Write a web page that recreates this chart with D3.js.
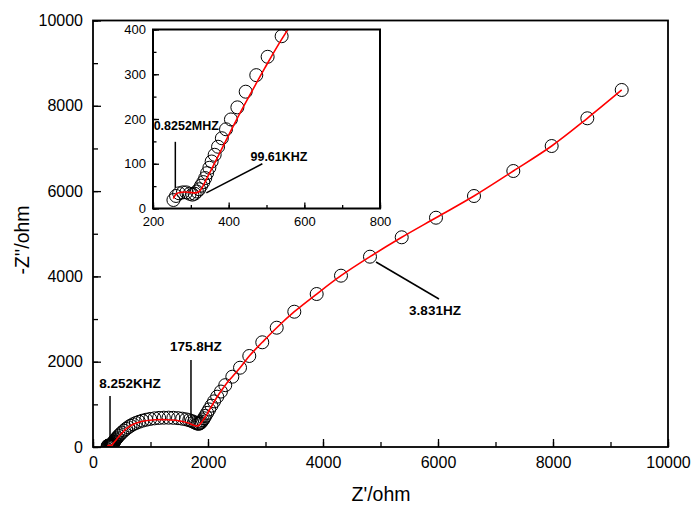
<!DOCTYPE html>
<html>
<head>
<meta charset="utf-8">
<script src="https://cdn.jsdelivr.net/npm/d3@7"></script>
<style>
  body { margin: 0; background: #fff; }
  svg { display: block; font-family: Arial, "Liberation Sans", sans-serif; }
</style>
</head>
<body>
<script>
"use strict";

// measured impedance points [Z', -Z''] (ohm)
const measured = [
    [254, 19], [261, 28], [269, 34], [279, 36], [288, 36], [297, 33], [304, 31],
    [310, 33], [316, 38], [322, 43], [327, 51], [333, 59], [338, 68], [343, 79],
    [349, 91], [355, 105], [363, 120], [372, 138], [382, 157], [393, 177],
    [406, 199], [423, 226], [445, 261], [473, 298], [503, 339], [540, 385],
    [575, 425], [612, 462], [652, 498], [697, 532], [746, 563], [800, 592],
    [860, 618], [925, 640], [995, 658], [1070, 672], [1150, 682], [1232, 687],
    [1315, 688], [1398, 684], [1478, 676], [1552, 664], [1618, 648], [1674, 628],
    [1720, 606], [1757, 584], [1786, 565], [1810, 551], [1832, 545], [1852, 550],
    [1870, 566], [1888, 592], [1908, 628], [1930, 674], [1955, 730], [1985, 800],
    [2020, 880], [2060, 970], [2105, 1070], [2160, 1180], [2225, 1300],
    [2300, 1450], [2423, 1648], [2557, 1859], [2718, 2134], [2944, 2455],
    [3195, 2797], [3501, 3172], [3890, 3587], [4313, 4017], [4817, 4462],
    [5369, 4917], [5965, 5376], [6626, 5885], [7310, 6471], [7977, 7057],
    [8597, 7707], [9195, 8371]
];

// fitted curve [Z', -Z'']
const fitted = [
    [254, 22], [258, 29], [264, 34], [272, 36], [284, 37], [298, 36], [312, 35],
    [322, 38], [332, 50], [345, 72], [365, 105], [390, 147], [420, 197],
    [455, 252], [495, 313], [540, 378], [590, 440], [650, 497], [720, 545],
    [800, 582], [890, 610], [990, 628], [1090, 638], [1190, 642], [1290, 640],
    [1390, 632], [1490, 616], [1580, 592], [1660, 560], [1730, 522], [1780, 498],
    [1810, 493], [1840, 505], [1870, 545], [1900, 600], [1940, 680], [1990, 790],
    [2050, 930], [2120, 1090], [2200, 1260], [2300, 1450], [2423, 1648],
    [2557, 1859], [2718, 2134], [2944, 2455], [3195, 2797], [3501, 3172],
    [3890, 3587], [4313, 4017], [4817, 4462], [5369, 4917], [5965, 5376],
    [6626, 5885], [7310, 6471], [7977, 7057], [8597, 7707], [9195, 8371]
];

const mainXTicks = [0, 2000, 4000, 6000, 8000, 10000];
const mainYTicks = [0, 2000, 4000, 6000, 8000, 10000];
const insetXTicks = [200, 400, 600, 800];
const insetYTicks = [0, 100, 200, 300, 400];

// annotations: label, label position, leader line (data units)
const mainNotes = [
    { text: "8.252KHZ", at: [643, 1500], from: [296, 1196], to: [296, 141] },
    { text: "175.8HZ",  at: [1791, 2345], from: [1704, 2040], to: [1704, 680] },
    { text: "3.831HZ",  at: [5948, 3212], from: [4922, 4338], to: [6017, 3470] }
];
const insetNotes = [
    { text: "0.8252MHZ", at: [288, 184], from: [259, 149], to: [259, 46] },
    { text: "99.61KHZ",  at: [533, 115], from: [341, 35], to: [489, 100] }
];

const width = 692, height = 506;
const svg = d3.select("body").append("svg")
              .attr("width", width)
              .attr("height", height);

/**
 * Draws one framed panel with inward ticks, markers and the fitted line.
 */
function drawPanel(opts) {
    const x = d3.scaleLinear().domain(opts.xDomain).range([opts.left, opts.right]);
    const y = d3.scaleLinear().domain(opts.yDomain).range([opts.bottom, opts.top]);
    const g = svg.append("g");
    const fmt = d3.format("d");

    g.append("rect")
     .attr("x", opts.left).attr("y", opts.top)
     .attr("width", opts.right - opts.left)
     .attr("height", opts.bottom - opts.top)
     .attr("fill", "#fff");

    const clipId = "clip-" + opts.name;
    g.append("clipPath").attr("id", clipId)
     .append("rect")
     .attr("x", opts.left).attr("y", opts.top)
     .attr("width", opts.right - opts.left)
     .attr("height", opts.bottom - opts.top);

    const minorX = d3.range(opts.xDomain[0], opts.xDomain[1] + 1e-9, opts.xMinor);
    const minorY = d3.range(opts.yDomain[0], opts.yDomain[1] + 1e-9, opts.yMinor);

    // bottom axis
    const xAxis = g.append("g").attr("transform", `translate(0,${opts.bottom})`);
    xAxis.call(d3.axisBottom(x).tickValues(minorX).tickSize(-opts.minorLen).tickFormat(""));
    xAxis.append("g").call(d3.axisBottom(x).tickValues(opts.xTicks).tickFormat(fmt)
         .tickSize(-opts.majorLen).tickPadding(opts.majorLen + opts.xPad));
    // left axis
    const yAxis = g.append("g").attr("transform", `translate(${opts.left},0)`);
    yAxis.call(d3.axisLeft(y).tickValues(minorY).tickSize(-opts.minorLen).tickFormat(""));
    yAxis.append("g").call(d3.axisLeft(y).tickValues(opts.yTicks).tickFormat(fmt)
         .tickSize(-opts.majorLen).tickPadding(opts.majorLen + opts.yPad));

    g.selectAll(".domain").remove();
    g.selectAll(".tick line").attr("stroke", "#000").attr("stroke-width", 1.3);
    g.selectAll(".tick text")
     .attr("fill", "#000")
     .attr("font-size", opts.fontSize)
     .attr("font-family", "Arial, 'Liberation Sans', sans-serif");

    const plot = g.append("g").attr("clip-path", `url(#${clipId})`);
    const line = d3.line().x(d => x(d[0])).y(d => y(d[1])).curve(d3.curveCatmullRom);

    plot.selectAll("circle")
        .data(measured)
        .enter().append("circle")
        .attr("cx", d => x(d[0]))
        .attr("cy", d => y(d[1]))
        .attr("r", opts.r)
        .attr("fill", "none")
        .attr("stroke", "#000")
        .attr("stroke-width", 1);

    // red fit drawn over the markers
    plot.append("path")
        .datum(fitted)
        .attr("fill", "none")
        .attr("stroke", "#ff0000")
        .attr("stroke-width", 1.6)
        .attr("d", line);

    // frame
    g.append("rect")
     .attr("x", opts.left).attr("y", opts.top)
     .attr("width", opts.right - opts.left)
     .attr("height", opts.bottom - opts.top)
     .attr("fill", "none")
     .attr("stroke", "#000")
     .attr("stroke-width", opts.frame);

    opts.notes.forEach(n => {
        g.append("line")
         .attr("x1", x(n.from[0])).attr("y1", y(n.from[1]))
         .attr("x2", x(n.to[0])).attr("y2", y(n.to[1]))
         .attr("stroke", "#000")
         .attr("stroke-width", 1.5);
        g.append("text")
         .attr("x", x(n.at[0])).attr("y", y(n.at[1]))
         .attr("text-anchor", "middle")
         .attr("dominant-baseline", "central")
         .attr("font-size", opts.noteSize)
         .attr("font-weight", "bold")
         .text(n.text);
    });

    return { x, y };
}

drawPanel({
    name: "main",
    left: 93, right: 668, top: 20.5, bottom: 447,
    xDomain: [0, 10000], yDomain: [0, 10000],
    xTicks: mainXTicks, yTicks: mainYTicks,
    xMinor: 1000, yMinor: 1000,
    majorLen: 8, minorLen: 5, xPad: 2, yPad: 2,
    fontSize: 16, noteSize: 13.5, r: 6.5, frame: 1.8,
    notes: mainNotes
});

drawPanel({
    name: "inset",
    left: 153, right: 380, top: 29.5, bottom: 208.5,
    xDomain: [200, 800], yDomain: [0, 400],
    xTicks: insetXTicks, yTicks: insetYTicks,
    xMinor: 100, yMinor: 50,
    majorLen: 6, minorLen: 3.5, xPad: 2.5, yPad: 1,
    fontSize: 13, noteSize: 12.5, r: 6.5, frame: 2,
    notes: insetNotes
});

// axis titles
svg.append("text")
   .attr("x", 381).attr("y", 494)
   .attr("text-anchor", "middle")
   .attr("dominant-baseline", "central")
   .attr("font-size", 19.5)
   .text("Z'/ohm");

svg.append("text")
   .attr("transform", "translate(22,240) rotate(-90)")
   .attr("text-anchor", "middle")
   .attr("dominant-baseline", "central")
   .attr("font-size", 19.5)
   .text("-Z''/ohm");
</script>
</body>
</html>
